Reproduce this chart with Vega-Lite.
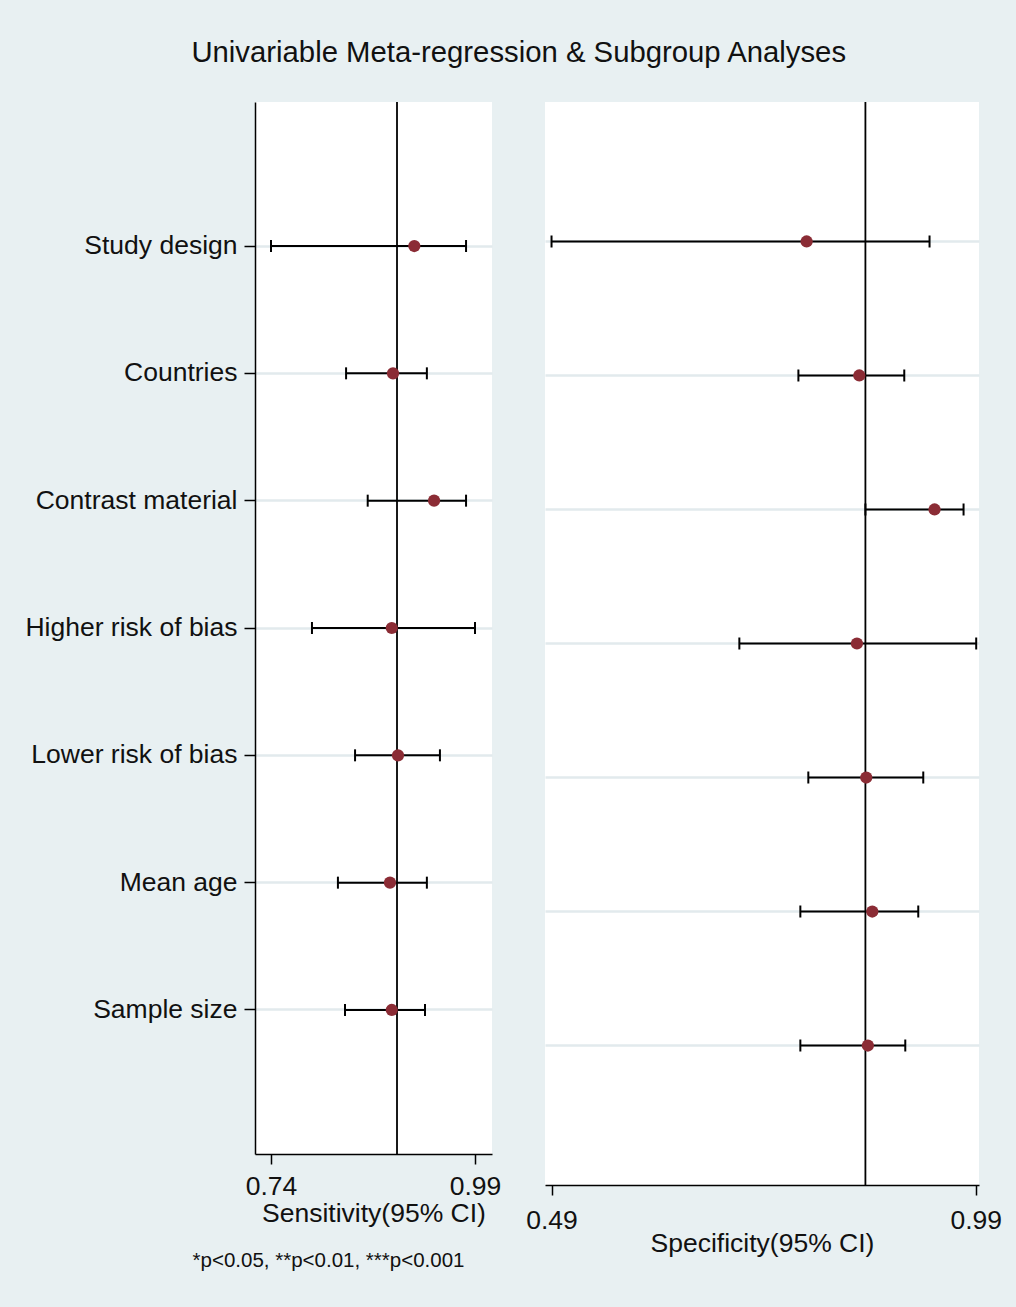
{
  "$schema": "https://vega.github.io/schema/vega-lite/v6.json",
  "background": "#e8f0f2",
  "padding": {"left": 24, "top": 38, "right": 14, "bottom": 37},
  "title": {
    "text": "Univariable Meta-regression & Subgroup Analyses",
    "fontSize": 29.3,
    "fontWeight": "normal",
    "color": "#111111",
    "anchor": "middle",
    "offset": 33,
    "dx": 6
  },
  "config": {
    "font": "Liberation Sans",
    "view": {"fill": "white", "stroke": null},
    "axis": {
      "labelFont": "Liberation Sans",
      "titleFont": "Liberation Sans",
      "labelColor": "#111111",
      "titleColor": "#111111",
      "domainColor": "black",
      "domainWidth": 1.5,
      "tickColor": "black",
      "tickWidth": 1.5,
      "gridColor": "#e2eaed",
      "gridWidth": 2.5
    }
  },
  "datasets": {
    "sensitivity": [
      {"label": "Study design", "est": 0.9156, "lo": 0.740, "hi": 0.979},
      {"label": "Countries", "est": 0.8895, "lo": 0.832, "hi": 0.931},
      {"label": "Contrast material", "est": 0.9398, "lo": 0.8585, "hi": 0.979},
      {"label": "Higher risk of bias", "est": 0.888, "lo": 0.7902, "hi": 0.990},
      {"label": "Lower risk of bias", "est": 0.8956, "lo": 0.843, "hi": 0.947},
      {"label": "Mean age", "est": 0.8858, "lo": 0.822, "hi": 0.931},
      {"label": "Sample size", "est": 0.888, "lo": 0.8307, "hi": 0.9287}
    ],
    "specificity": [
      {"label": "Study design", "est": 0.7907, "lo": 0.490, "hi": 0.9356},
      {"label": "Countries", "est": 0.8528, "lo": 0.781, "hi": 0.9058},
      {"label": "Contrast material", "est": 0.9415, "lo": 0.860, "hi": 0.9757},
      {"label": "Higher risk of bias", "est": 0.850, "lo": 0.7114, "hi": 0.9906},
      {"label": "Lower risk of bias", "est": 0.861, "lo": 0.7927, "hi": 0.9282},
      {"label": "Mean age", "est": 0.8681, "lo": 0.7833, "hi": 0.9223},
      {"label": "Sample size", "est": 0.8629, "lo": 0.7833, "hi": 0.907}
    ],
    "pooled": [
      {"measure": "sensitivity", "value": 0.8944},
      {"measure": "specificity", "value": 0.860}
    ]
  },
  "spacing": 24,
  "hconcat": [
    {
      "width": 237,
      "height": 1052,
      "title": {
        "text": "*p<0.05, **p<0.01, ***p<0.001",
        "orient": "bottom",
        "anchor": "middle",
        "fontSize": 20.5,
        "fontWeight": "normal",
        "color": "#111111",
        "offset": 24,
        "dx": -45
      },
      "layer": [
        {
          "data": {"name": "sensitivity"},
          "mark": {"type": "rule", "color": "black", "strokeWidth": 2},
          "encoding": {
            "y": {
              "field": "label",
              "type": "nominal",
              "scale": {
                "type": "band",
                "paddingInner": 0,
                "paddingOuter": 0.631,
                "domain": ["Study design", "Countries", "Contrast material", "Higher risk of bias", "Lower risk of bias", "Mean age", "Sample size"]
              },
              "axis": {
                "title": null,
                "labelFontSize": 26.5,
                "labelPadding": 7,
                "labelLimit": 0,
                "tickSize": 11,
                "tickBand": "center",
                "grid": true,
                "minExtent": 231
              }
            },
            "x": {
              "field": "lo",
              "type": "quantitative",
              "scale": {"domain": [0.7204, 1.0108], "zero": false, "nice": false},
              "axis": {
                "values": [0.74, 0.99],
                "format": ".2f",
                "title": "Sensitivity(95% CI)",
                "titleFontSize": 26.5,
                "titleFontWeight": "normal",
                "titlePadding": 0.5,
                "labelFontSize": 26.5,
                "labelFlush": false,
                "labelOverlap": false,
                "labelPadding": 9,
                "tickSize": 10,
                "grid": false
              }
            },
            "x2": {"field": "hi"}
          }
        },
        {
          "data": {"name": "sensitivity"},
          "mark": {"type": "point", "shape": "M0,-1L0,1", "size": 144, "filled": false, "stroke": "black", "strokeWidth": 2, "opacity": 1},
          "encoding": {
            "y": {"field": "label", "type": "nominal"},
            "x": {"field": "lo", "type": "quantitative"}
          }
        },
        {
          "data": {"name": "sensitivity"},
          "mark": {"type": "point", "shape": "M0,-1L0,1", "size": 144, "filled": false, "stroke": "black", "strokeWidth": 2, "opacity": 1},
          "encoding": {
            "y": {"field": "label", "type": "nominal"},
            "x": {"field": "hi", "type": "quantitative"}
          }
        },
        {
          "data": {"name": "pooled"},
          "transform": [{"filter": "datum.measure === 'sensitivity'"}],
          "mark": {"type": "rule", "color": "black", "strokeWidth": 1.8},
          "encoding": {
            "x": {"field": "value", "type": "quantitative"}
          }
        },
        {
          "data": {"name": "sensitivity"},
          "mark": {"type": "point", "shape": "circle", "filled": true, "size": 150, "color": "#8b2c35", "opacity": 1},
          "encoding": {
            "y": {"field": "label", "type": "nominal"},
            "x": {"field": "est", "type": "quantitative"}
          }
        }
      ]
    },
    {
      "width": 434,
      "height": 1083,
      "layer": [
        {
          "data": {"name": "specificity"},
          "mark": {"type": "rule", "color": "black", "strokeWidth": 2},
          "encoding": {
            "y": {
              "field": "label",
              "type": "nominal",
              "scale": {
                "type": "band",
                "paddingInner": 0,
                "paddingOuter": 0.541,
                "domain": ["Study design", "Countries", "Contrast material", "Higher risk of bias", "Lower risk of bias", "Mean age", "Sample size"]
              },
              "axis": {
                "title": null,
                "labels": false,
                "ticks": false,
                "domain": false,
                "tickBand": "center",
                "grid": true,
                "minExtent": 0,
                "maxExtent": 0
              }
            },
            "x": {
              "field": "lo",
              "type": "quantitative",
              "scale": {"domain": [0.4823, 0.9939], "zero": false, "nice": false},
              "axis": {
                "values": [0.49, 0.99],
                "format": ".2f",
                "title": "Specificity(95% CI)",
                "titleFontSize": 26.5,
                "titleFontWeight": "normal",
                "titlePadding": -3.5,
                "labelFontSize": 26.5,
                "labelFlush": false,
                "labelOverlap": false,
                "labelPadding": 12.5,
                "tickSize": 10,
                "grid": false
              }
            },
            "x2": {"field": "hi"}
          }
        },
        {
          "data": {"name": "specificity"},
          "mark": {"type": "point", "shape": "M0,-1L0,1", "size": 144, "filled": false, "stroke": "black", "strokeWidth": 2, "opacity": 1},
          "encoding": {
            "y": {"field": "label", "type": "nominal"},
            "x": {"field": "lo", "type": "quantitative"}
          }
        },
        {
          "data": {"name": "specificity"},
          "mark": {"type": "point", "shape": "M0,-1L0,1", "size": 144, "filled": false, "stroke": "black", "strokeWidth": 2, "opacity": 1},
          "encoding": {
            "y": {"field": "label", "type": "nominal"},
            "x": {"field": "hi", "type": "quantitative"}
          }
        },
        {
          "data": {"name": "pooled"},
          "transform": [{"filter": "datum.measure === 'specificity'"}],
          "mark": {"type": "rule", "color": "black", "strokeWidth": 1.8},
          "encoding": {
            "x": {"field": "value", "type": "quantitative"}
          }
        },
        {
          "data": {"name": "specificity"},
          "mark": {"type": "point", "shape": "circle", "filled": true, "size": 150, "color": "#8b2c35", "opacity": 1},
          "encoding": {
            "y": {"field": "label", "type": "nominal"},
            "x": {"field": "est", "type": "quantitative"}
          }
        }
      ]
    }
  ]
}
